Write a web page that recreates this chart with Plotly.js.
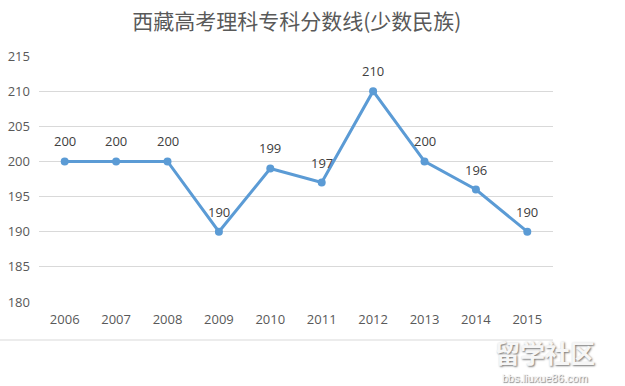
<!DOCTYPE html>
<html><head><meta charset="utf-8">
<script src="https://cdn.plot.ly/plotly-3.0.1.min.js"></script>
<style>html,body{margin:0;padding:0;background:#fff}</style>
</head><body>
<div id="chart" style="width:625px;height:386px"></div>
<script>
var years = ["2006","2007","2008","2009","2010","2011","2012","2013","2014","2015"];
var scores = [200,200,200,190,199,197,210,200,196,190];
var yTicks = [180,185,190,195,200,205,210,215];
var chartTitle = "西藏高考理科专科分数线(少数民族)";

var font = "'Open Sans', 'Noto Sans CJK SC', sans-serif";
var trace = {
  x: years, y: scores, type: "scatter", mode: "lines+markers",
  line: {color: "#5B9BD5", width: 3},
  marker: {color: "#5B9BD5", size: 8},
  cliponaxis: false, hoverinfo: "none"
};
var labelAnns = years.map(function (yr, i) {
  return {x: i, y: scores[i], xref: "x", yref: "y", text: String(scores[i]),
          showarrow: false, yanchor: "middle", yshift: 20,
          font: {family: font, size: 13, color: "#404040"}};
});
var layout = {
  width: 625, height: 386,
  margin: {l: 39, r: 72, t: 56, b: 84},
  paper_bgcolor: "#fff", plot_bgcolor: "#fff",
  showlegend: false,
  title: {text: chartTitle, x: 0.475, xanchor: "center", y: 0.945, yanchor: "middle",
          font: {family: "'Noto Sans CJK SC', sans-serif", size: 21, color: "#595959"}},
  xaxis: {type: "category", range: [-0.5, 9.5], showgrid: false, zeroline: false,
          showline: false, ticks: "", tickfont: {family: font, size: 13, color: "#595959"},
          ticklabelstandoff: 8},
  yaxis: {range: [180, 215], tickvals: yTicks, showgrid: true, gridcolor: "#D9D9D9",
          gridwidth: 1, zeroline: false, showline: false, ticks: "",
          tickfont: {family: font, size: 13, color: "#595959"}, ticklabelstandoff: 8},
  shapes: [{type: "line", xref: "paper", yref: "paper", x0: -0.076, x1: 1.0,
            y0: -0.1545, y1: -0.1545, line: {color: "#D9D9D9", width: 1}}],
  annotations: labelAnns.concat([
    {text: "留学社区", xref: "paper", yref: "paper", x: 0.984, y: -0.12, xanchor: "center",
     yanchor: "top", showarrow: false,
     font: {family: "'Noto Sans CJK SC', sans-serif", size: 25, color: "#f6f6f6", weight: 700,
            shadow: "1px 1px 2px #777"}},
    {text: "bbs.liuxue86.com", xref: "paper", yref: "paper", x: 0.984, y: -0.341, xanchor: "center",
     yanchor: "bottom", showarrow: false,
     font: {family: "'Liberation Sans', sans-serif", size: 11, color: "#f6f6f6",
            shadow: "1px 1px 1px #777"}}
  ])
};
Plotly.newPlot("chart", [trace], layout, {displayModeBar: false, staticPlot: true});
</script>
</body></html>
